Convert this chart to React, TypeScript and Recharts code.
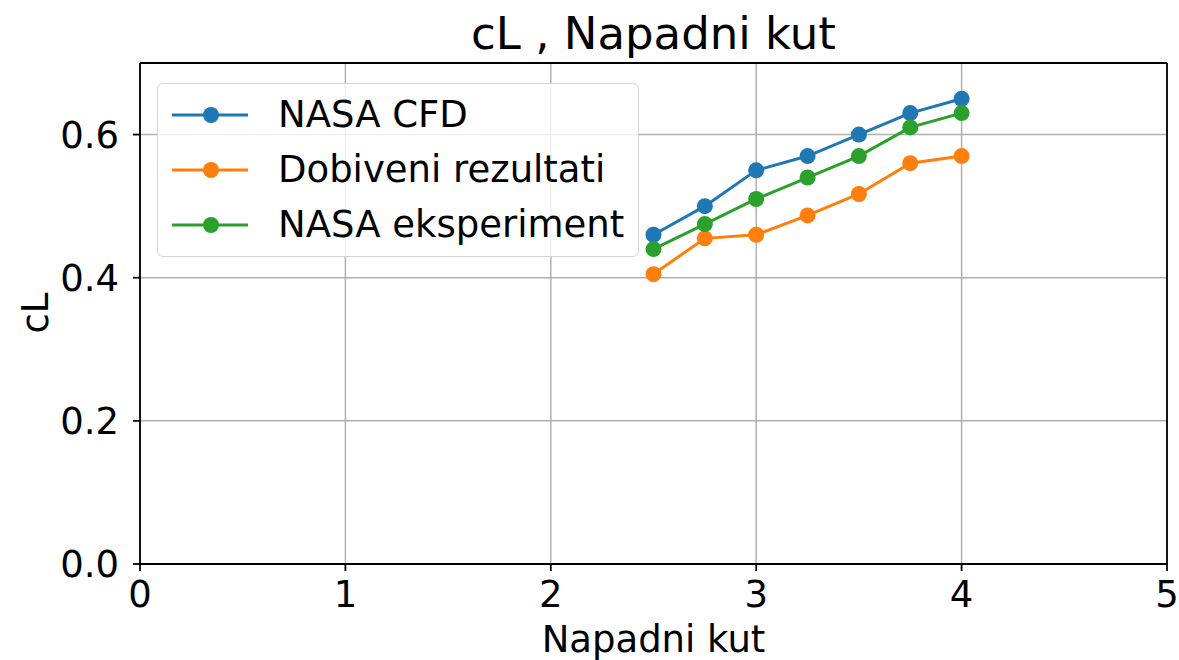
import {
  LineChart,
  Line,
  XAxis,
  YAxis,
  CartesianGrid,
  ReferenceLine,
} from "recharts";

const ANGLES = [2.5, 2.75, 3, 3.25, 3.5, 3.75, 4];
const NASA_CFD = [0.46, 0.5, 0.55, 0.57, 0.6, 0.63, 0.65];
const DOBIVENI = [0.405, 0.455, 0.46, 0.487, 0.517, 0.56, 0.57];
const NASA_EXP = [0.44, 0.475, 0.51, 0.54, 0.57, 0.61, 0.63];
const X_TICKS = [0, 1, 2, 3, 4, 5];
const Y_TICKS = [0, 0.2, 0.4, 0.6];

const SERIES = [
  { key: "cfd", name: "NASA CFD", color: "#1f77b4" },
  { key: "dob", name: "Dobiveni rezultati", color: "#ff7f0e" },
  { key: "exp", name: "NASA eksperiment", color: "#2ca02c" },
];

const FONT = "'DejaVu Sans', sans-serif";

function LegendBox() {
  return (
    <div
      style={{
        position: "absolute",
        left: 157,
        top: 83,
        width: 482,
        height: 174,
        border: "1.5px solid #d6d6d6",
        borderRadius: 6,
        background: "rgba(255,255,255,0.8)",
        boxSizing: "border-box",
        paddingTop: 3,
        fontFamily: FONT,
        fontSize: 37,
        color: "#000",
      }}
    >
      {SERIES.map((s) => (
        <div key={s.key} style={{ display: "flex", alignItems: "center", height: 55 }}>
          <svg width={120} height={20} style={{ flex: "none" }}>
            <line x1={14} x2={90} y1={10} y2={10} stroke={s.color} strokeWidth={3} />
            <circle cx={53} cy={10} r={8} fill={s.color} />
          </svg>
          <span style={{ whiteSpace: "nowrap" }}>{s.name}</span>
        </div>
      ))}
    </div>
  );
}

export default function App() {
  const data = ANGLES.map((a, i) => ({
    x: a,
    cfd: NASA_CFD[i],
    dob: DOBIVENI[i],
    exp: NASA_EXP[i],
  }));

  return (
    <div style={{ position: "absolute", left: 0, top: 0, width: 1179, height: 660, background: "#fff", overflow: "hidden" }}>
      <LineChart
        width={1179}
        height={660}
        data={data}
        margin={{ top: 63, right: 12, bottom: 0, left: 0 }}
        style={{ fontFamily: FONT }}
      >
        <CartesianGrid stroke="#b0b0b0" strokeWidth={1.5} />
        <XAxis
          dataKey="x"
          type="number"
          domain={[0, 5]}
          ticks={X_TICKS}
          height={96}
          tickSize={7}
          tickMargin={10}
          stroke="#000"
          strokeWidth={1.8}
          tick={{ fill: "#000", fontSize: 37 }}
          label={{ value: "Napadni kut", position: "insideBottom", offset: 8, fill: "#000", fontSize: 37 }}
        />
        <YAxis
          type="number"
          domain={[0, 0.7]}
          ticks={Y_TICKS}
          width={140}
          tickSize={7}
          tickMargin={14}
          stroke="#000"
          strokeWidth={1.8}
          tickFormatter={(v: number) => v.toFixed(1)}
          tick={{ fill: "#000", fontSize: 37 }}
        />
        <ReferenceLine x={5} stroke="#000" strokeWidth={1.8} />
        <ReferenceLine y={0.7} stroke="#000" strokeWidth={1.8} />
        {SERIES.map((s) => (
          <Line
            key={s.key}
            dataKey={s.key}
            name={s.name}
            type="linear"
            stroke={s.color}
            strokeWidth={3}
            dot={{ r: 8, fill: s.color, stroke: s.color, strokeWidth: 0 }}
            isAnimationActive={false}
          />
        ))}
      </LineChart>
      <div
        style={{
          position: "absolute",
          left: 140,
          width: 1027,
          top: 7,
          textAlign: "center",
          fontFamily: FONT,
          fontSize: 45,
          lineHeight: "normal",
          color: "#000",
        }}
      >
        cL , Napadni kut
      </div>
      <div
        style={{
          position: "absolute",
          left: 35,
          top: 313,
          transform: "translate(-50%, -50%) rotate(-90deg)",
          fontFamily: FONT,
          fontSize: 37,
          lineHeight: "normal",
          color: "#000",
          whiteSpace: "nowrap",
        }}
      >
        cL
      </div>
      <LegendBox />
    </div>
  );
}
